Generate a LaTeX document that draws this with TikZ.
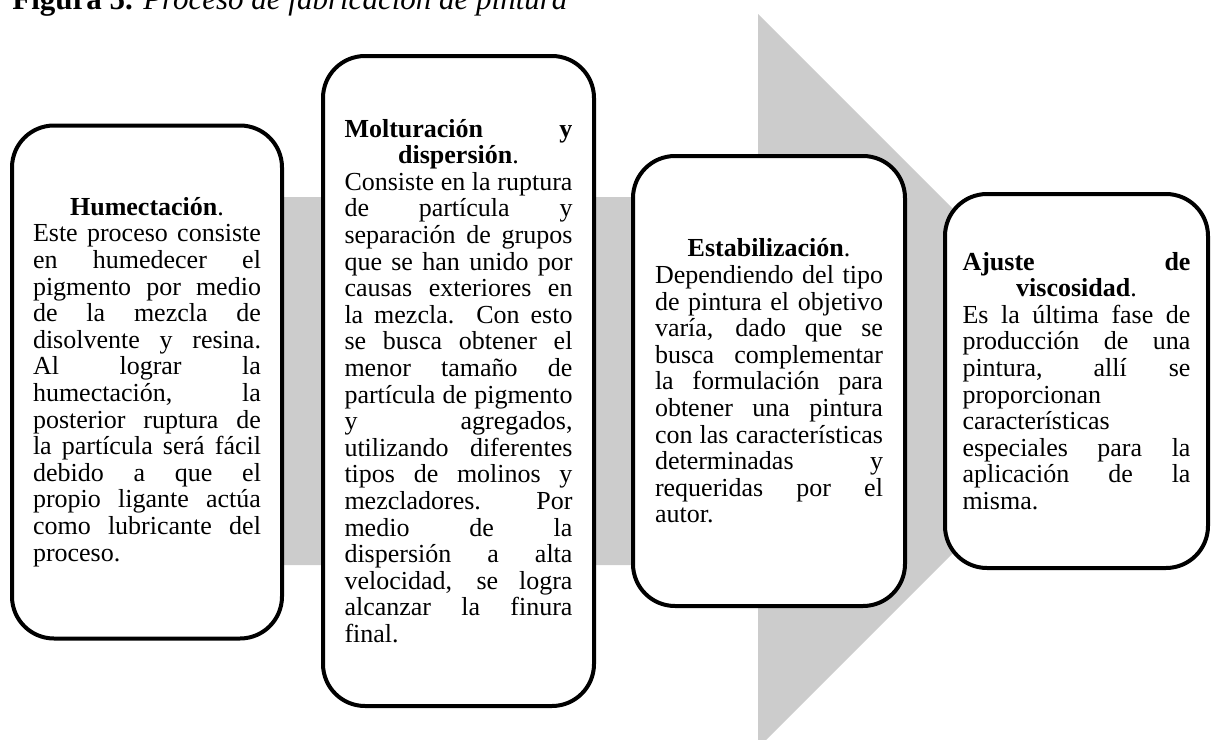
\documentclass[tikz,border=0pt]{standalone}
\usepackage{fontspec}
\setmainfont{Liberation Serif}
% line-breaking setup used inside every stage box
\newcommand\stagebreaks{\tolerance=10000 \hbadness=10000 \hyphenpenalty=10000 \relax}
\begin{document}
\begin{tikzpicture}[x=0.5pt,y=-0.5pt,
  stage/.style={draw=black, line width=2pt, rounded corners=21pt, fill=white,
    text width=114pt, align=justify, inner sep=0pt,
    font=\fontsize{13}{13.3}\selectfont},
  flow/.style={fill=gray!40, draw=none},
  caption/.style={anchor=base west, inner sep=0pt, font=\fontsize{15.5}{18}\selectfont}
]
\useasboundingbox (0,0) rectangle (1212,740);

% caption, partly above the page edge
\node[caption] (title) at (12,9) {\textbf{Figura 5.} \textit{Proceso de fabricación de pintura}};

% broad grey arrow behind the stages
\fill[flow] (147,197) -- (758,197) -- (758,14) -- (1125,381) -- (758,748) -- (758,565) -- (147,565) -- cycle;

% stages
\node[stage, minimum width=135pt, minimum height=256.5pt] (hum) at (147,382) {\stagebreaks
{\centering\textbf{Humectación}.\par}
Este proceso consiste\linebreak
en humedecer el\linebreak
pigmento por medio\linebreak
de la mezcla de\linebreak
disolvente y resina.\linebreak
Al lograr la\linebreak
humectación, la\linebreak
posterior ruptura de\linebreak
la partícula será fácil\linebreak
debido a que el\linebreak
propio ligante actúa\linebreak
como lubricante del\linebreak
proceso.};

\node[stage, minimum width=135.5pt, minimum height=325pt] (mol) at (458.5,381) {\stagebreaks
\textbf{Molturación}\hfill\textbf{y}\par
{\centering\textbf{dispersión}.\par}
Consiste en la ruptura\linebreak
de partícula y\linebreak
separación de grupos\linebreak
que se han unido por\linebreak
causas exteriores en\linebreak
la mezcla. Con esto\linebreak
se busca obtener el\linebreak
menor tamaño de\linebreak
partícula de pigmento\linebreak
y agregados,\linebreak
utilizando diferentes\linebreak
tipos de molinos y\linebreak
mezcladores. Por\linebreak
medio de la\linebreak
dispersión a alta\linebreak
velocidad, se logra\linebreak
alcanzar la finura\linebreak
final.};

\node[stage, minimum width=136pt, minimum height=225pt] (est) at (769,381) {\stagebreaks
{\centering\textbf{Estabilización}.\par}
Dependiendo del tipo\linebreak
de pintura el objetivo\linebreak
varía, dado que se\linebreak
busca complementar\linebreak
la formulación para\linebreak
obtener una pintura\linebreak
con las características\linebreak
determinadas y\linebreak
requeridas por el\linebreak
autor.};

\node[stage, minimum width=131.5pt, minimum height=187pt] (aju) at (1076.5,381) {\stagebreaks
\textbf{Ajuste}\hfill\textbf{de}\par
{\centering\textbf{viscosidad}.\par}
Es la última fase de\linebreak
producción de una\linebreak
pintura, allí se\linebreak
proporcionan\linebreak
características\linebreak
especiales para la\linebreak
aplicación de la\linebreak
misma.};
\end{tikzpicture}
\end{document}
